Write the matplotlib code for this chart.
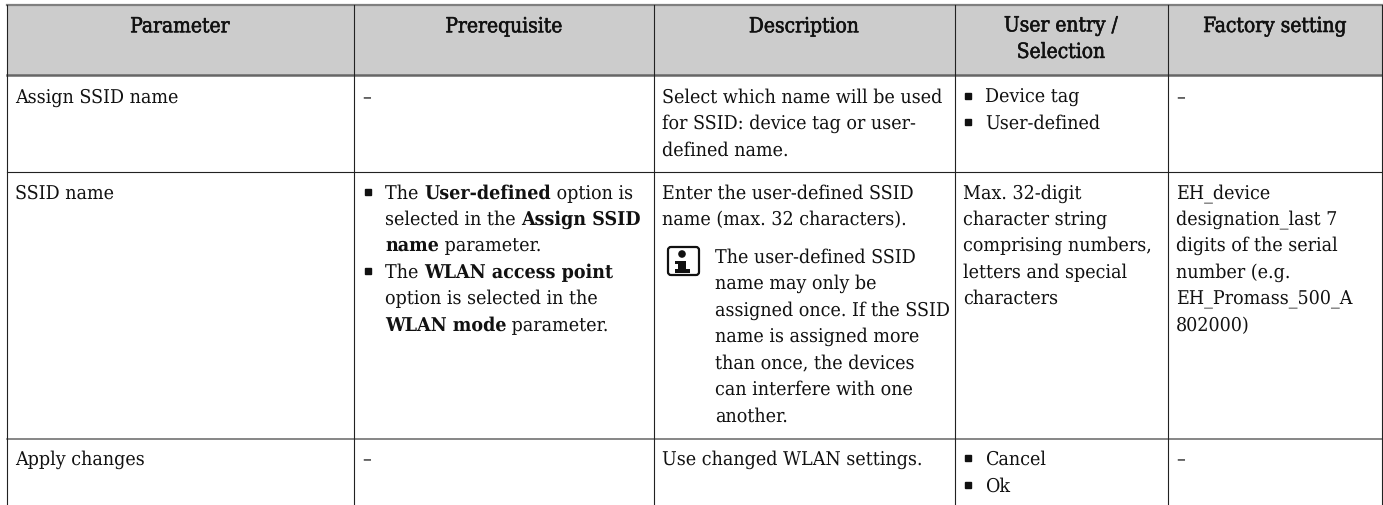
import matplotlib
matplotlib.use('Agg')
import matplotlib.pyplot as plt
import matplotlib.patheffects as pe
from matplotlib.patches import Circle, FancyBboxPatch, Rectangle

plt.rcParams['text.hinting'] = 'no_hinting'

W, H = 1383, 506
FONT = 'DejaVu Serif'

col_edges = [7, 354, 654, 955, 1168, 1382]
row_edges = [5.5, 75.5, 172.5, 439.5]
headers = ['Parameter', 'Prerequisite', 'Description', 'User entry /\nSelection', 'Factory setting']

# each line: column x, baseline y, bullet?, list of (text, bold)
assign_rows = [
    (15, 103, False, [('Assign SSID name', False)]),
    (362, 103, False, [('–', False)]),
    (662, 103, False, [('Select which name will be used', False)]),
    (662, 129, False, [('for SSID: device tag or user-', False)]),
    (662, 156, False, [('defined name.', False)]),
    (985, 103, True, [('Device tag', False)]),
    (985, 129, True, [('User-defined', False)]),
    (1176, 103, False, [('–', False)]),
]
ssid_rows = [
    (15, 199, False, [('SSID name', False)]),
    (385, 199, True, [('The ', False), ('User-defined', True), (' option is', False)]),
    (385, 225, False, [('selected in the ', False), ('Assign SSID', True)]),
    (385, 251, False, [('name', True), (' parameter.', False)]),
    (385, 278, True, [('The ', False), ('WLAN access point', True)]),
    (385, 304, False, [('option is selected in the', False)]),
    (385, 331, False, [('WLAN mode', True), (' parameter.', False)]),
    (662, 199, False, [('Enter the user-defined SSID', False)]),
    (662, 225, False, [('name (max. 32 characters).', False)]),
    (715, 263, False, [('The user-defined SSID', False)]),
    (715, 289, False, [('name may only be', False)]),
    (715, 316, False, [('assigned once. If the SSID', False)]),
    (715, 342, False, [('name is assigned more', False)]),
    (715, 369, False, [('than once, the devices', False)]),
    (715, 395, False, [('can interfere with one', False)]),
    (715, 422, False, [('another.', False)]),
    (963, 199, False, [('Max. 32-digit', False)]),
    (963, 225, False, [('character string', False)]),
    (963, 251, False, [('comprising numbers,', False)]),
    (963, 278, False, [('letters and special', False)]),
    (963, 304, False, [('characters', False)]),
    (1176, 199, False, [('EH_device', False)]),
    (1176, 225, False, [('designation_last 7', False)]),
    (1176, 251, False, [('digits of the serial', False)]),
    (1176, 278, False, [('number (e.g.', False)]),
    (1176, 304, False, [('EH_Promass_500_A', False)]),
    (1176, 331, False, [('802000)', False)]),
]
apply_rows = [
    (15, 465, False, [('Apply changes', False)]),
    (362, 465, False, [('–', False)]),
    (662, 465, False, [('Use changed WLAN settings.', False)]),
    (985, 465, True, [('Cancel', False)]),
    (985, 492, True, [('Ok', False)]),
    (1176, 465, False, [('–', False)]),
]

fig = plt.figure(figsize=(W / 100, H / 100), dpi=100)
ax = fig.add_axes([0, 0, 1, 1])
ax.set_xlim(0, W)
ax.set_ylim(H, 0)
ax.axis('off')

ax.add_patch(Rectangle((col_edges[0], row_edges[0]), col_edges[-1] - col_edges[0], row_edges[1] - row_edges[0], color='#cccccc', lw=0))

x0, x1 = col_edges[0], col_edges[-1]
ax.plot([x0, x1], [row_edges[0]] * 2, color='#7f7f7f', lw=1.6)
ax.plot([x0, x1], [row_edges[1]] * 2, color='#666666', lw=1.8)
ax.plot([x0, x1], [row_edges[2]] * 2, color='#222222', lw=0.8)
ax.plot([x0, x1], [row_edges[3]] * 2, color='#666666', lw=1.1)
for x in col_edges:
    ax.plot([x, x], [row_edges[0], H], color='#222222', lw=0.8)

fs = 14
renderer = fig.canvas.get_renderer()

def draw_runs(x, y, runs):
    for s, bold in runs:
        t = ax.text(x, y, s, fontsize=fs, family=FONT, stretch='condensed',
                    fontweight='bold' if bold else 'normal', va='baseline', ha='left', color='#111111')
        x += t.get_window_extent(renderer).width

for x, y, bullet, runs in assign_rows + ssid_rows + apply_rows:
    if bullet:
        ax.plot([x - 17], [y - 6], marker='s', ms=4.2, color='#111111')
    draw_runs(x, y, runs)

# header, regular weight with a thin stroke since the font has no medium
centres = [180, 504, 804, 1061, 1275]
for c, h in zip(centres, headers):
    ax.text(c, 27.5 if '\n' not in h else 40, h, fontsize=15, family=FONT, stretch='condensed',
            ha='center', va='center', linespacing=1.37, color='#111111',
            path_effects=[pe.withStroke(linewidth=0.4, foreground='#111111')])

# info icon
ax.add_patch(FancyBboxPatch((668, 248), 31, 28, boxstyle='round,pad=0,rounding_size=3', fc='white', ec='#111111', lw=1.6))
ax.add_patch(Circle((682, 255), 3.8, color='#111111', lw=0))
ax.add_patch(Rectangle((678, 262), 8, 10, color='#111111', lw=0))
ax.add_patch(Rectangle((675, 262), 5, 2.5, color='#111111', lw=0))
ax.add_patch(Rectangle((675, 270), 15, 3.5, color='#111111', lw=0))

fig.savefig('out.png', dpi=100)
